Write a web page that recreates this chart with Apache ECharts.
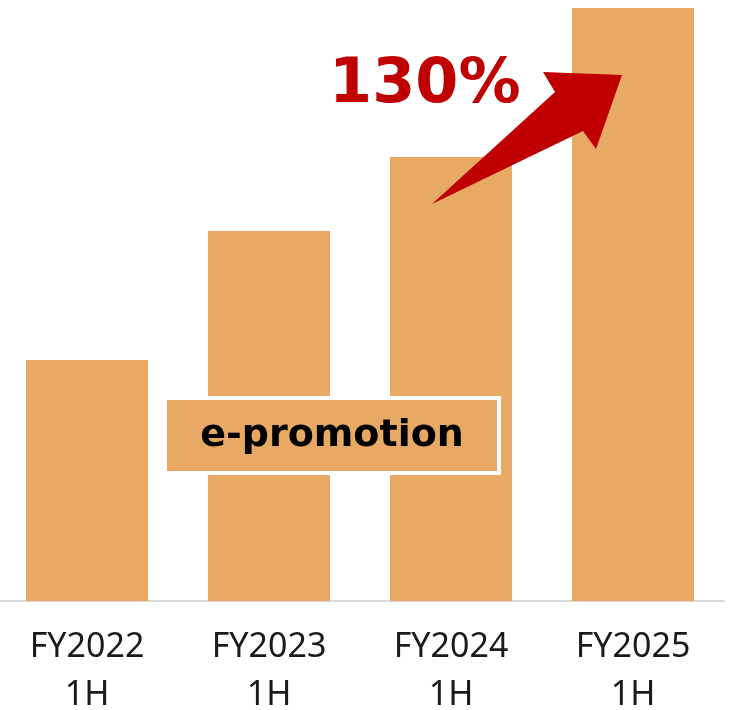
<!DOCTYPE html>
<html>
<head>
<meta charset="utf-8">
<script src="https://cdn.jsdelivr.net/npm/echarts@6/dist/echarts.min.js"></script>
<style>
  html, body { margin: 0; padding: 0; background: #fff; }
  #main { width: 733px; height: 710px; }
</style>
</head>
<body>
<div id="main"></div>
<script>
// values indexed to FY2022 1H = 100
const categories = ['FY2022\n1H', 'FY2023\n1H', 'FY2024\n1H', 'FY2025\n1H'];
const salesIndex = [100, 153.5, 184.2, 246.1];
const growthLabel = '130%';
const boxLabel = 'e-promotion';

const barColor = '#E8A965';
const red = '#C00000';

var chartDom = document.getElementById('main');
var myChart = echarts.init(chartDom);

var option = {
  animation: false,
  grid: {
    left: -4,
    top: 0,
    width: 728,
    height: 601,
    containLabel: false,
    outerBoundsMode: 'none',
  },
  xAxis: {
    type: 'category',
    data: categories,
    axisLine: {
      show: true,
      lineStyle: { color: '#D9D9D9', width: 2 },
    },
    axisTick: { show: false },
    axisLabel: {
      color: '#1a1a1a',
      fontFamily: 'Noto Sans',
      fontSize: 34,
      lineHeight: 48,
      margin: 22,
    },
  },
  yAxis: {
    type: 'value',
    min: 0,
    max: 249.4,
    show: false,
    splitLine: { show: false },
  },
  series: [
    {
      type: 'bar',
      data: salesIndex,
      barWidth: 122,
      itemStyle: { color: barColor },
    },
  ],
  graphic: [
    {
      type: 'polygon',
      z: 10,
      shape: {
        points: [
          [432, 204],
          [555, 92],
          [543, 72],
          [622, 75],
          [596, 149],
          [583, 131],
        ],
      },
      style: { fill: red },
    },
    {
      type: 'text',
      z: 10,
      left: 329,
      top: 55,
      style: {
        text: growthLabel,
        fill: red,
        font: 'bold 62px "DejaVu Sans"',
      },
    },
    {
      type: 'rect',
      z: 10,
      shape: { x: 165, y: 398, width: 334, height: 75 },
      style: { fill: barColor, stroke: '#fff', lineWidth: 4 },
    },
    {
      type: 'text',
      z: 11,
      x: 332,
      y: 436,
      style: {
        text: boxLabel,
        fill: '#000',
        font: 'bold 38px "DejaVu Sans"',
        align: 'center',
        verticalAlign: 'middle',
      },
    },
  ],
};

option && myChart.setOption(option);
</script>
</body>
</html>
